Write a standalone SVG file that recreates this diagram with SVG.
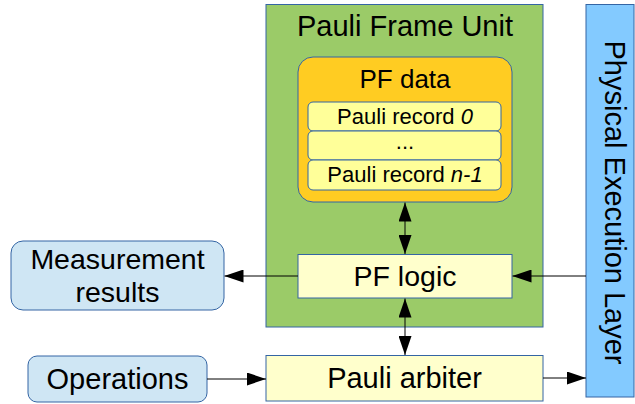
<svg xmlns="http://www.w3.org/2000/svg" width="635" height="404" viewBox="0 0 635 404">
  <defs>
    <marker id="arrow" viewBox="0 0 19 13" refX="19" refY="6.5" markerWidth="19" markerHeight="13" markerUnits="userSpaceOnUse" orient="auto-start-reverse">
      <path d="M0,0 L19,6.5 L0,13 Z" fill="#000"/>
    </marker>
    <style>
      text { font-family: "Liberation Sans", Arial, sans-serif; fill: #000; text-anchor: middle; }
      .box { stroke: #3465a4; stroke-width: 1; }
      .conn { stroke: #000; stroke-width: 1; fill: none; }
    </style>
  </defs>
  <rect width="635" height="404" fill="#fff"/>

  <g id="pauli-frame-unit">
    <rect class="box" x="266" y="4.5" width="277" height="322.5" fill="#9bcb68"/>
    <text x="405" y="36" font-size="29">Pauli Frame Unit</text>
  </g>

  <g id="pf-data">
    <rect class="box" x="298" y="57" width="214" height="145" rx="15" fill="#ffcc22"/>
    <text x="405" y="88" font-size="26">PF data</text>
  </g>

  <g id="pauli-record-0">
    <rect class="box" x="308" y="102" width="193" height="29" rx="5" fill="#ffff99"/>
    <text x="405" y="124" font-size="22">Pauli record <tspan font-style="italic">0</tspan></text>
  </g>
  <g id="pauli-record-dots">
    <rect class="box" x="308" y="131" width="193" height="29" rx="5" fill="#ffff99"/>
    <text x="405" y="149" font-size="22">...</text>
  </g>
  <g id="pauli-record-n1">
    <rect class="box" x="308" y="160" width="193" height="30" rx="5" fill="#ffff99"/>
    <text x="405" y="182" font-size="22">Pauli record <tspan font-style="italic">n-1</tspan></text>
  </g>

  <g id="pf-logic">
    <rect class="box" x="298" y="254.5" width="214" height="43.5" fill="#ffffcc"/>
    <text x="405" y="286" font-size="28.5">PF logic</text>
  </g>

  <g id="pauli-arbiter">
    <rect class="box" x="266" y="355.5" width="277" height="45.5" fill="#ffffcc"/>
    <text x="404.5" y="388" font-size="29">Pauli arbiter</text>
  </g>

  <g id="measurement-results">
    <rect class="box" x="11" y="241" width="213" height="69" rx="12" fill="#cfe6f4"/>
    <text x="117.5" y="269" font-size="28.5">Measurement</text>
    <text x="117.5" y="302" font-size="28.5">results</text>
  </g>

  <g id="operations">
    <rect class="box" x="28" y="356" width="179" height="46" rx="9" fill="#cfe6f4"/>
    <text x="117.5" y="389" font-size="29">Operations</text>
  </g>

  <g id="physical-execution-layer">
    <rect class="box" x="586" y="4.5" width="48" height="392.5" fill="#83caff"/>
    <text x="0" y="0" font-size="29" transform="translate(605 202.5) rotate(90)">Physical Execution Layer</text>
  </g>

  <g id="connectors">
    <line class="conn" x1="405" y1="202.5" x2="405" y2="254" marker-start="url(#arrow)" marker-end="url(#arrow)"/>
    <line class="conn" x1="405" y1="298.5" x2="405" y2="355" marker-start="url(#arrow)" marker-end="url(#arrow)"/>
    <line class="conn" x1="298" y1="276" x2="224.5" y2="276" marker-end="url(#arrow)"/>
    <line class="conn" x1="586" y1="276" x2="512.5" y2="276" marker-end="url(#arrow)"/>
    <line class="conn" x1="207" y1="379" x2="266" y2="379" marker-end="url(#arrow)"/>
    <line class="conn" x1="543" y1="378" x2="586" y2="378" marker-end="url(#arrow)"/>
  </g>
</svg>
